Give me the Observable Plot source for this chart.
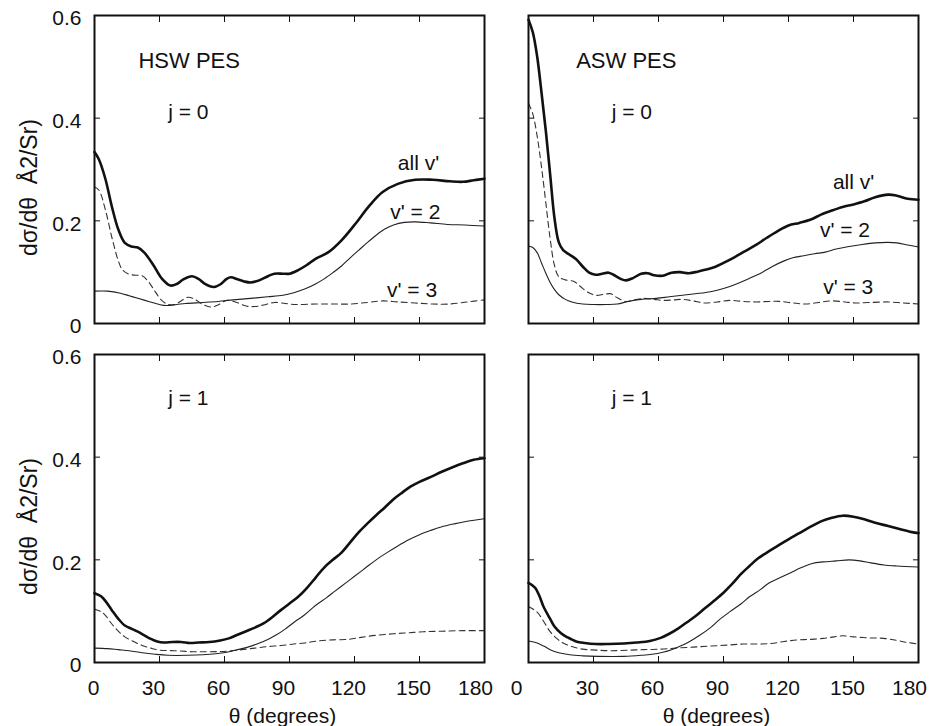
<!DOCTYPE html>
<html>
<head>
<meta charset="utf-8">
<style>
  html, body { margin: 0; padding: 0; background: #fff; }
</style>
<script src="https://cdn.jsdelivr.net/npm/d3@7"></script>
<script src="https://cdn.jsdelivr.net/npm/@observablehq/plot@0.6"></script>
</head>
<body>
<div id="chart"></div>
<script>
// ---- categories & ticks ----
const pesNames = ["HSW PES", "ASW PES"];
const jNames = ["j = 0", "j = 1"];
const seriesNames = ["all v'", "v' = 2", "v' = 3"];
const xTicks = [0, 30, 60, 90, 120, 150, 180];
const yTicks = [0, 0.2, 0.4, 0.6];
const xLabel = "θ (degrees)";
const yLabel = "dσ/dθ\u00a0\u00a0Å2/Sr)";

// ---- HSW PES, j = 0 : [theta (deg), dσ/dθ] ----
const hswJ0All = [[0,0.334],[2,0.320],[5,0.282],[8,0.228],[11,0.183],[14,0.157],[17,0.150],[20,0.148],[23,0.138],[27,0.115],[31,0.088],[35,0.074],[38,0.077],[41,0.086],[45,0.092],[48,0.087],[51,0.077],[55,0.071],[58,0.076],[61,0.087],[63,0.090],[66,0.086],[69,0.082],[72,0.080],[76,0.084],[80,0.092],[83,0.097],[87,0.097],[90,0.097],[94,0.104],[98,0.114],[102,0.126],[108,0.139],[114,0.162],[120,0.192],[127,0.230],[133,0.256],[140,0.272],[148,0.280],[156,0.280],[164,0.277],[170,0.276],[175,0.279],[180,0.282]];
const hswJ0V2 = [[0,0.063],[6,0.063],[12,0.059],[16,0.054],[20,0.049],[25,0.043],[30,0.037],[33,0.035],[38,0.037],[42,0.039],[50,0.041],[57,0.043],[64,0.046],[72,0.049],[80,0.052],[87,0.055],[92,0.060],[97,0.067],[102,0.077],[106,0.087],[110,0.099],[114,0.112],[118,0.128],[122,0.143],[126,0.158],[130,0.172],[134,0.184],[138,0.192],[143,0.197],[148,0.198],[155,0.196],[163,0.193],[171,0.192],[180,0.190]];
const hswJ0V3 = [[0,0.266],[2,0.260],[5,0.222],[8,0.168],[11,0.122],[13,0.104],[16,0.096],[19,0.094],[22,0.093],[25,0.081],[28,0.062],[31,0.045],[34,0.037],[37,0.037],[40,0.044],[43,0.051],[46,0.048],[50,0.037],[54,0.032],[57,0.036],[61,0.045],[65,0.042],[70,0.034],[74,0.033],[78,0.036],[83,0.041],[88,0.039],[93,0.037],[102,0.038],[110,0.038],[118,0.038],[126,0.041],[133,0.044],[140,0.042],[148,0.040],[156,0.038],[164,0.038],[172,0.042],[180,0.046]];

// ---- ASW PES, j = 0 ----
const aswJ0All = [[0,0.592],[2,0.567],[4,0.520],[6,0.450],[8,0.375],[10,0.290],[12,0.205],[14,0.158],[16,0.143],[19,0.134],[22,0.125],[25,0.111],[28,0.099],[31,0.095],[34,0.097],[37,0.099],[40,0.093],[43,0.086],[45,0.084],[48,0.088],[52,0.097],[55,0.098],[58,0.094],[62,0.093],[66,0.099],[70,0.100],[74,0.098],[78,0.101],[82,0.105],[86,0.110],[90,0.118],[95,0.129],[100,0.141],[105,0.153],[110,0.167],[115,0.180],[120,0.191],[125,0.196],[130,0.202],[135,0.212],[140,0.220],[145,0.227],[150,0.232],[155,0.238],[160,0.246],[166,0.251],[170,0.249],[175,0.243],[180,0.241]];
const aswJ0V2 = [[0,0.151],[2,0.148],[4,0.138],[6,0.118],[8,0.098],[10,0.080],[12,0.066],[14,0.056],[17,0.047],[20,0.042],[25,0.038],[30,0.037],[36,0.037],[41,0.038],[46,0.043],[52,0.047],[59,0.049],[65,0.052],[71,0.055],[77,0.058],[84,0.062],[90,0.068],[96,0.077],[102,0.088],[108,0.100],[113,0.112],[118,0.122],[122,0.128],[127,0.132],[132,0.136],[137,0.139],[142,0.145],[148,0.150],[154,0.154],[160,0.157],[166,0.158],[170,0.157],[175,0.153],[180,0.149]];
const aswJ0V3 = [[0,0.429],[2,0.408],[4,0.365],[6,0.305],[8,0.235],[10,0.165],[12,0.113],[14,0.091],[17,0.085],[21,0.082],[24,0.072],[27,0.062],[31,0.055],[35,0.057],[38,0.058],[41,0.050],[45,0.043],[49,0.046],[53,0.049],[58,0.047],[62,0.045],[67,0.046],[71,0.047],[76,0.044],[81,0.040],[87,0.042],[93,0.045],[99,0.043],[105,0.042],[111,0.043],[116,0.043],[122,0.040],[128,0.038],[134,0.041],[140,0.044],[146,0.042],[151,0.040],[158,0.041],[166,0.042],[173,0.040],[180,0.038]];

// ---- HSW PES, j = 1 ----
const hswJ1All = [[0,0.135],[3,0.129],[5,0.120],[8,0.102],[11,0.085],[14,0.072],[17,0.066],[20,0.060],[23,0.053],[26,0.046],[29,0.041],[32,0.039],[36,0.040],[40,0.040],[44,0.038],[48,0.039],[53,0.040],[58,0.043],[62,0.047],[66,0.054],[70,0.061],[74,0.068],[78,0.076],[82,0.088],[86,0.102],[90,0.115],[94,0.128],[98,0.145],[102,0.165],[106,0.185],[110,0.200],[114,0.214],[118,0.234],[122,0.254],[126,0.271],[130,0.287],[134,0.302],[138,0.318],[142,0.331],[146,0.343],[150,0.352],[155,0.361],[160,0.371],[165,0.380],[170,0.388],[175,0.395],[180,0.398]];
const hswJ1V2 = [[0,0.028],[6,0.027],[11,0.025],[16,0.023],[22,0.019],[28,0.016],[34,0.014],[43,0.014],[50,0.015],[56,0.017],[61,0.020],[65,0.024],[70,0.029],[75,0.036],[80,0.045],[84,0.054],[88,0.065],[92,0.078],[97,0.093],[102,0.111],[107,0.126],[111,0.139],[116,0.155],[120,0.168],[125,0.184],[130,0.200],[135,0.214],[140,0.227],[145,0.239],[150,0.249],[155,0.257],[160,0.264],[166,0.270],[172,0.275],[180,0.280]];
const hswJ1V3 = [[0,0.104],[3,0.099],[5,0.092],[8,0.075],[11,0.061],[14,0.050],[18,0.041],[22,0.033],[26,0.028],[30,0.024],[37,0.023],[45,0.021],[53,0.021],[61,0.022],[68,0.025],[74,0.028],[80,0.031],[86,0.033],[92,0.036],[97,0.038],[103,0.042],[110,0.044],[117,0.045],[123,0.049],[130,0.053],[138,0.056],[145,0.058],[152,0.060],[160,0.061],[170,0.062],[180,0.062]];

// ---- ASW PES, j = 1 ----
const aswJ1All = [[0,0.155],[3,0.146],[5,0.130],[7,0.108],[10,0.085],[12,0.070],[15,0.057],[18,0.049],[22,0.041],[26,0.038],[31,0.036],[37,0.036],[44,0.037],[50,0.039],[56,0.042],[61,0.048],[65,0.056],[69,0.066],[73,0.078],[77,0.090],[81,0.104],[85,0.118],[90,0.136],[94,0.153],[98,0.172],[102,0.188],[106,0.203],[110,0.214],[115,0.227],[120,0.240],[125,0.252],[130,0.264],[135,0.275],[140,0.282],[145,0.286],[150,0.284],[155,0.279],[160,0.272],[166,0.266],[172,0.259],[177,0.254],[180,0.252]];
const aswJ1V2 = [[0,0.042],[4,0.038],[7,0.032],[10,0.025],[14,0.019],[19,0.015],[25,0.013],[32,0.012],[44,0.012],[52,0.014],[57,0.016],[62,0.020],[66,0.025],[70,0.032],[74,0.040],[79,0.053],[84,0.068],[88,0.083],[93,0.099],[98,0.114],[102,0.128],[107,0.142],[111,0.155],[116,0.165],[121,0.175],[126,0.185],[131,0.193],[136,0.196],[142,0.198],[148,0.200],[153,0.198],[158,0.194],[164,0.190],[170,0.188],[180,0.186]];
const aswJ1V3 = [[0,0.109],[4,0.098],[7,0.080],[10,0.060],[13,0.047],[16,0.038],[20,0.031],[25,0.026],[32,0.024],[38,0.023],[46,0.024],[53,0.025],[61,0.026],[68,0.028],[76,0.030],[84,0.032],[92,0.034],[99,0.036],[106,0.036],[112,0.037],[118,0.041],[124,0.044],[130,0.045],[136,0.047],[141,0.050],[145,0.052],[150,0.050],[157,0.048],[164,0.047],[170,0.043],[175,0.039],[180,0.036]];

// ---- in-panel annotations (anchored in data units) ----
const annotations = [
  {pes: "HSW PES", j: "j = 0", text: "HSW PES", theta: 20.3, value: 0.512, big: true},
  {pes: "HSW PES", j: "j = 0", text: "j = 0", theta: 34, value: 0.411},
  {pes: "HSW PES", j: "j = 0", text: "all v'", theta: 140, value: 0.312},
  {pes: "HSW PES", j: "j = 0", text: "v' = 2", theta: 136.5, value: 0.216},
  {pes: "HSW PES", j: "j = 0", text: "v' = 3", theta: 135, value: 0.064},
  {pes: "ASW PES", j: "j = 0", text: "ASW PES", theta: 22, value: 0.512, big: true},
  {pes: "ASW PES", j: "j = 0", text: "j = 0", theta: 38.4, value: 0.411},
  {pes: "ASW PES", j: "j = 0", text: "all v'", theta: 140.5, value: 0.275},
  {pes: "ASW PES", j: "j = 0", text: "v' = 2", theta: 134.5, value: 0.181},
  {pes: "ASW PES", j: "j = 0", text: "v' = 3", theta: 136, value: 0.070},
  {pes: "HSW PES", j: "j = 1", text: "j = 1", theta: 34, value: 0.515},
  {pes: "ASW PES", j: "j = 1", text: "j = 1", theta: 38.4, value: 0.515}
];

// ---- build the long table ----
const panels = [
  {pes: pesNames[0], j: jNames[0], series: [hswJ0All, hswJ0V2, hswJ0V3]},
  {pes: pesNames[1], j: jNames[0], series: [aswJ0All, aswJ0V2, aswJ0V3]},
  {pes: pesNames[0], j: jNames[1], series: [hswJ1All, hswJ1V2, hswJ1V3]},
  {pes: pesNames[1], j: jNames[1], series: [aswJ1All, aswJ1V2, aswJ1V3]}
];
const rows = [];
for (const p of panels) {
  p.series.forEach((arr, k) => {
    for (const [theta, value] of arr) rows.push({pes: p.pes, j: p.j, series: seriesNames[k], theta, value});
  });
}
const bySeries = (name) => rows.filter(d => d.series === name);

const rowLabelData = jNames.map(j => ({pes: pesNames[0], j}));
const colLabelData = pesNames.map(pes => ({pes, j: jNames[1]}));
const zeroLeft = [{pes: pesNames[0], j: jNames[1], tick: xTicks[0]}];
const zeroRight = [{pes: pesNames[1], j: jNames[1], tick: xTicks[0]}];
const innerXTicks = xTicks.slice(1, -1);
const lastXTick = xTicks.slice(-1);

const ink = "#111";
const font = "'Liberation Sans', Arial, Helvetica, sans-serif";
const fmt = d => String(d);

const chart = Plot.plot({
  width: 929,
  height: 726,
  marginLeft: 94,
  marginRight: 10,
  marginTop: 15,
  marginBottom: 63.5,
  style: {fontFamily: font, fontSize: "21px", color: ink, background: "#fff", overflow: "visible"},
  fx: {domain: pesNames, paddingInner: 0.101, paddingOuter: 0, axis: null, label: null},
  fy: {domain: jNames, paddingInner: 0.0914, paddingOuter: 0, axis: null, label: null},
  x: {domain: [0, 180]},
  y: {domain: [0, 0.6]},
  marks: [
    // curves
    Plot.line(bySeries(seriesNames[2]), {x: "theta", y: "value", fx: "pes", fy: "j", stroke: "#333", strokeWidth: 1.1, strokeDasharray: "6,4", curve: "catmull-rom"}),
    Plot.line(bySeries(seriesNames[1]), {x: "theta", y: "value", fx: "pes", fy: "j", stroke: "#222", strokeWidth: 1.1, curve: "catmull-rom"}),
    Plot.line(bySeries(seriesNames[0]), {x: "theta", y: "value", fx: "pes", fy: "j", stroke: ink, strokeWidth: 2.6, curve: "catmull-rom"}),
    // inward tick marks on all four sides of every panel
    Plot.axisX(xTicks, {anchor: "bottom", tickSize: 6, dy: -6, fill: "none", facetAnchor: null, stroke: ink, label: null}),
    Plot.axisX(xTicks, {anchor: "top", tickSize: 6, dy: 6, fill: "none", facetAnchor: null, stroke: ink, label: null}),
    Plot.axisY(yTicks, {anchor: "left", tickSize: 6, dx: 6, fill: "none", facetAnchor: null, stroke: ink, label: null}),
    Plot.axisY(yTicks, {anchor: "right", tickSize: 6, dx: -6, fill: "none", facetAnchor: null, stroke: ink, label: null}),
    // tick labels
    Plot.axisX(innerXTicks, {anchor: "bottom", tickSize: 0, tickPadding: 18, dx: -6, fontSize: 21, label: null, fill: ink, tickFormat: fmt}),
    Plot.axisX(lastXTick, {anchor: "bottom", tickSize: 0, tickPadding: 18, dx: -9, fontSize: 21, label: null, fill: ink, tickFormat: fmt}),
    Plot.text(zeroLeft, {fx: "pes", fy: "j", x: "tick", text: d => fmt(d.tick), frameAnchor: "bottom", lineAnchor: "top", textAnchor: "middle", dy: 18, dx: -1, fontSize: 21, fill: ink}),
    Plot.text(zeroRight, {fx: "pes", fy: "j", x: "tick", text: d => fmt(d.tick), frameAnchor: "bottom", lineAnchor: "top", textAnchor: "middle", dy: 18, dx: -12, fontSize: 21, fill: ink}),
    Plot.axisY(yTicks, {anchor: "left", tickSize: 0, tickPadding: 13, dy: 3, fontSize: 21, label: null, fill: ink, tickFormat: fmt}),
    // panel frame
    Plot.frame({stroke: ink, strokeWidth: 2}),
    // annotations
    Plot.text(annotations, {fx: "pes", fy: "j", x: "theta", y: "value", text: "text", textAnchor: "start", lineAnchor: "middle", fontSize: d => d.big ? 22 : 21, fill: ink}),
    // axis titles
    Plot.text(rowLabelData, {fx: "pes", fy: "j", text: () => yLabel, frameAnchor: "left", textAnchor: "middle", lineAnchor: "middle", rotate: -90, dx: -65, dy: 18, fontSize: 23, fill: ink}),
    Plot.text(colLabelData, {fx: "pes", fy: "j", text: () => xLabel, frameAnchor: "bottom", textAnchor: "middle", lineAnchor: "middle", dy: 54, dx: -7, fontSize: 21, fill: ink})
  ]
});

document.getElementById("chart").appendChild(chart);
</script>
</body>
</html>
